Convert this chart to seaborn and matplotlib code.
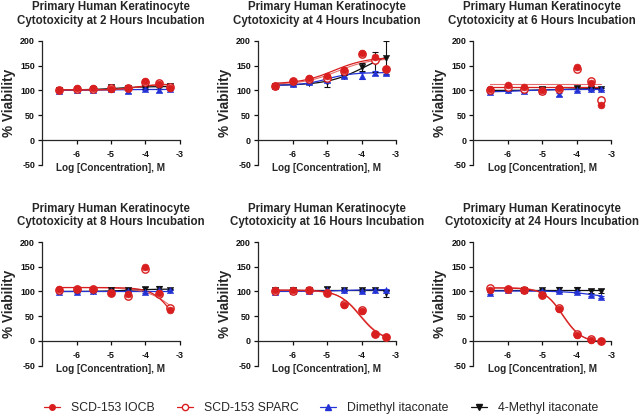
import numpy as np
import pandas as pd
import matplotlib
matplotlib.use("Agg")
import matplotlib.pyplot as plt
import seaborn as sns
from matplotlib.lines import Line2D

# ---------------- data ----------------
log_conc = [-6.52, -6.0, -5.52, -5.0, -4.52, -4.0, -3.6, -3.3]
hours = [2, 4, 6, 8, 16, 24]
series_names = ["SCD-153 IOCB", "SCD-153 SPARC", "Dimethyl itaconate", "4-Methyl itaconate"]

# mean % viability per panel (IOCB, SPARC, Dimethyl, 4-Methyl)
iocb_2h = [101, 104, 104, 103, 104, 119, 113, 104]
sparc_2h = [100, 103, 103, 104, 104, 117, 115, 106]
dmi_2h = [98, 100, 101, 102, 98, 102, 100, 103]
mi4_2h = [100, 101, 102, 107, 104, 104, 105, 109]

iocb_4h = [108, 119, 125, 128, 141, 176, 168, 144]
sparc_4h = [109, 118, 122, 124, 139, 173, 161, 143]
dmi_4h = [108, 113, 116, 120, 130, 130, 136, 136]
mi4_4h = [108, 112, 115, 117, 128, 148, 158, 166]

iocb_6h = [103, 110, 106, 101, 104, 147, 114, 71]
sparc_6h = [100, 106, 103, 99, 102, 143, 119, 81]
dmi_6h = [97, 100, 99, 99, 92, 101, 103, 102]
mi4_6h = [100, 101, 100, 103, 102, 105, 103, 103]

iocb_8h = [105, 106, 106, 97, 95, 150, 96, 63]
sparc_8h = [104, 105, 105, 97, 91, 146, 95, 67]
dmi_8h = [98, 99, 101, 101, 100, 99, 102, 104]
mi4_8h = [101, 100, 101, 103, 102, 105, 106, 104]

iocb_16h = [102, 104, 103, 96, 73, 60, 15, 8]
sparc_16h = [100, 101, 103, 97, 75, 62, 15, 8]
dmi_16h = [99, 101, 101, 102, 103, 101, 104, 103]
mi4_16h = [102, 102, 102, 105, 103, 103, 104, 96]

iocb_24h = [104, 106, 102, 93, 65, 12, 2, 0]
sparc_24h = [107, 105, 103, 93, 66, 14, 3, 0]
dmi_24h = [97, 103, 102, 100, 100, 98, 93, 89]
mi4_24h = [102, 103, 104, 102, 104, 103, 101, 101]

# error bars (SD) for the itaconate series
dmi_err_2h = [2, 2, 2, 2, 3, 2, 3, 2]
mi4_err_2h = [2, 3, 2, 4, 2, 2, 2, 3]
dmi_err_4h = [2, 2, 2, 3, 3, 7, 4, 4]
mi4_err_4h = [3, 3, 3, 11, 4, 8, 20, 33]
dmi_err_6h = [2, 2, 2, 2, 3, 2, 2, 2]
mi4_err_6h = [2, 2, 2, 3, 2, 3, 3, 2]
dmi_err_8h = [2, 2, 2, 2, 2, 2, 2, 2]
mi4_err_8h = [2, 2, 2, 3, 3, 4, 5, 2]
dmi_err_16h = [2, 2, 2, 2, 3, 3, 2, 2]
mi4_err_16h = [2, 2, 2, 4, 2, 2, 2, 8]
dmi_err_24h = [2, 2, 2, 2, 2, 2, 2, 2]
mi4_err_24h = [2, 2, 3, 4, 6, 7, 5, 5]

# curve-fit parameters: (left plateau, right plateau, logEC50, hill)
fit_2h = [(101, 112, -4.3, 1.5), (101, 113, -4.2, 1.5), (100, 102, -5.0, 1.0), (101, 108, -4.8, 1.0)]
fit_4h = [(113, 167, -4.8, 0.9), (112, 165, -4.7, 0.9), (110, 136, -5.0, 1.2), (110, 185, -3.9, 0.8)]
fit_6h = [(106, 106, -4.5, 1.0), (112, 112, -4.5, 1.0), (97, 102, -5.5, 1.0), (100, 104, -4.5, 1.0)]
fit_8h = [(108, 0, -3.2, 1.5), (108, 0, -3.0, 1.0), (100, 100, -4.5, 1.0), (100, 105, -4.5, 1.0)]
fit_16h = [(103, 0, -4.05, 1.4), (102, 0, -4.02, 1.4), (100, 104, -4.5, 1.0), (102, 102, -4.5, 1.0)]
fit_24h = [(107, -3, -4.4, 1.6), (108, -3, -4.42, 1.6), (101, 85, -3.5, 1.0), (103, 103, -4.5, 1.0)]

panels = [
    (iocb_2h, sparc_2h, dmi_2h, mi4_2h, dmi_err_2h, mi4_err_2h, fit_2h),
    (iocb_4h, sparc_4h, dmi_4h, mi4_4h, dmi_err_4h, mi4_err_4h, fit_4h),
    (iocb_6h, sparc_6h, dmi_6h, mi4_6h, dmi_err_6h, mi4_err_6h, fit_6h),
    (iocb_8h, sparc_8h, dmi_8h, mi4_8h, dmi_err_8h, mi4_err_8h, fit_8h),
    (iocb_16h, sparc_16h, dmi_16h, mi4_16h, dmi_err_16h, mi4_err_16h, fit_16h),
    (iocb_24h, sparc_24h, dmi_24h, mi4_24h, dmi_err_24h, mi4_err_24h, fit_24h),
]

# ---------------- style ----------------
sns.set_theme(style="ticks")
plt.rcParams["font.family"] = ["Liberation Sans", "DejaVu Sans"]
plt.rcParams["axes.linewidth"] = 0.9
plt.rcParams["axes.unicode_minus"] = False

RED = "#d81e1e"
RED2 = "#e35050"
BLUE = "#2433d6"
BLACK = "#111111"
colors = [RED, RED2, BLUE, BLACK]
markers = ["o", "o", "^", "v"]

fig = plt.figure(figsize=(6.42, 4.19), dpi=100)
W, H = 642, 419
col_x = [42, 258, 473.3]
row_top = [40.7, 242]
row_bot = [165, 365.7]
ax_w = 138


def sigmoid(x, p):
    left, right, ec50, hill = p
    return left + (right - left) / (1 + 10 ** (hill * (ec50 - x)))


for i, (hr, pdata) in enumerate(zip(hours, panels)):
    r, c = divmod(i, 3)
    x0 = col_x[c] / W
    y0 = (H - row_bot[r]) / H
    h = (row_bot[r] - row_top[r]) / H
    ax = fig.add_axes([x0, y0, ax_w / W, h])
    iocb, sparc, dmi, mi4, dmi_err, mi4_err, fits = pdata
    vals = [iocb, sparc, dmi, mi4]

    xs = np.linspace(log_conc[0], log_conc[-1], 120)
    # curves and points drawn: 4-Methyl, Dimethyl, SPARC, IOCB
    for k in [3, 2, 1, 0]:
        curve = pd.DataFrame({"x": xs, "y": sigmoid(xs, fits[k])})
        sns.lineplot(data=curve, x="x", y="y", ax=ax, color=colors[k],
                     lw=0.9 if k != 1 else 0.8, alpha=1.0 if k != 1 else 0.85,
                     legend=False, zorder=2)
        if k == 3:
            ax.errorbar(log_conc, mi4, yerr=mi4_err, fmt="none", ecolor=BLACK,
                        elinewidth=0.8, capsize=2, capthick=0.8, zorder=3)
        if k == 2:
            ax.errorbar(log_conc, dmi, yerr=dmi_err, fmt="none", ecolor=BLUE,
                        elinewidth=0.8, capsize=2, capthick=0.8, zorder=3)
        pts = pd.DataFrame({"x": log_conc, "y": vals[k]})
        if k == 1:
            sns.scatterplot(data=pts, x="x", y="y", ax=ax, marker="o", s=28,
                            facecolor="white", edgecolor=RED, linewidth=1.0,
                            legend=False, zorder=4)
        elif k == 0:
            sns.scatterplot(data=pts, x="x", y="y", ax=ax, marker="o", s=24,
                            color=RED, edgecolor=RED, linewidth=0.5,
                            legend=False, zorder=5)
        else:
            sns.scatterplot(data=pts, x="x", y="y", ax=ax, marker=markers[k], s=20,
                            color=colors[k], edgecolor=colors[k], linewidth=0.4,
                            legend=False, zorder=4)

    ax.set_xlim(-7, -3)
    ax.set_ylim(-50, 200)
    ax.set_xticks([-6, -5, -4, -3])
    ax.set_yticks([-50, 0, 50, 100, 150, 200])
    ax.spines["top"].set_visible(False)
    ax.spines["right"].set_visible(False)
    ax.spines["bottom"].set_position(("data", 0))
    ax.tick_params(axis="both", direction="out", length=3, width=0.9,
                   labelsize=6.4, colors=BLACK)
    ax.tick_params(axis="x", pad=4)
    ax.tick_params(axis="y", pad=2)
    for lab in ax.get_xticklabels() + ax.get_yticklabels():
        lab.set_fontweight("bold")
    ax.set_xlabel("Log [Concentration], M", fontsize=7.2, fontweight="bold", labelpad=3)
    ax.set_ylabel("% Viability", fontsize=9.8, fontweight="bold", labelpad=3)
    ax.set_title(f"Primary Human Keratinocyte\nCytotoxicity at {hr} Hours Incubation",
                 fontsize=8.3, fontweight="bold", pad=12, linespacing=1.2)

handles = [
    Line2D([], [], color=RED, marker="o", ms=4, lw=0.9),
    Line2D([], [], color=RED, marker="o", ms=4.5, mfc="white", lw=0.9),
    Line2D([], [], color=BLUE, marker="^", ms=4.5, lw=0.9),
    Line2D([], [], color=BLACK, marker="v", ms=4.5, lw=0.9),
]
fig.legend(handles, series_names, loc="center", bbox_to_anchor=(0.5, 11 / H),
           ncol=4, frameon=False, fontsize=8.8, handlelength=1.3,
           columnspacing=1.8, handletextpad=0.9)

fig.savefig("out.png", dpi=100)
